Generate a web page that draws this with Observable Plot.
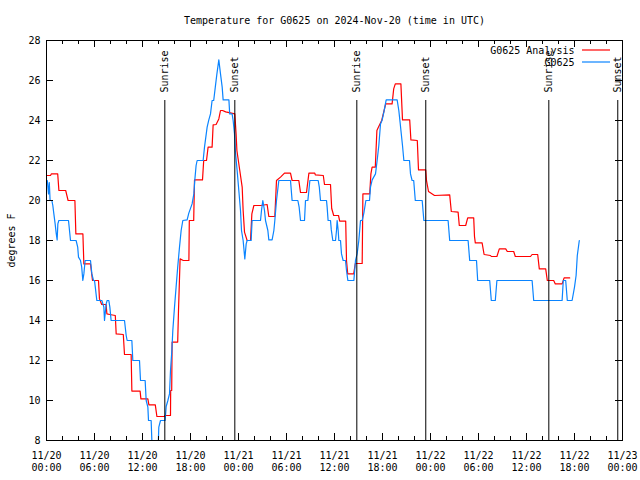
<!DOCTYPE html>
<html>
<head>
<meta charset="utf-8">
<script src="https://cdn.jsdelivr.net/npm/d3@7"></script>
<script src="https://cdn.jsdelivr.net/npm/@observablehq/plot@0.6"></script>
<style>
  html, body { margin: 0; padding: 0; background: white; }
</style>
</head>
<body>
<div id="chart"></div>
<script>
// ---- data (hours since 2024-11-20 00:00 UTC, degrees F) ----
const titleText = "Temperature for G0625 on 2024-Nov-20 (time in UTC)";
const yLabel = "degrees F";
const seriesNames = ["G0625 Analysis", "G0625"];
const seriesColors = ["#ff0000", "#0a84ff"];

const analysis = [
  [0, 21.25], [0.5, 21.25], [0.6, 21.33], [1.4, 21.33], [1.55, 20.5], [2.4, 20.5], [2.5, 20.33],
  [2.7, 20.0], [3.55, 20.0], [3.67, 18.33], [4.55, 18.33], [4.67, 16.83], [5.5, 16.83], [5.75, 16.0],
  [6.5, 16.0], [6.62, 15.08], [6.9, 14.8], [7.45, 14.8], [7.55, 14.33], [7.9, 14.3], [8.6, 14.25],
  [8.71, 13.33], [9.6, 13.3], [9.75, 12.3], [10.58, 12.3], [10.67, 10.47], [11.7, 10.47], [11.8, 10.08],
  [12.67, 10.08], [12.8, 9.78], [13.6, 9.78], [13.8, 9.2], [14.75, 9.2], [14.8, 9.25], [15.5, 9.25],
  [15.52, 10.5], [15.65, 10.5], [15.7, 12.92], [16.4, 12.92], [16.5, 14.5], [16.7, 17.08], [17.1, 17.0],
  [17.8, 17.0], [17.85, 19.0], [18.4, 19.0], [18.5, 21.03], [19.5, 21.03], [19.65, 22.0], [20.0, 22.0],
  [20.2, 22.67], [20.7, 22.67], [20.83, 23.78], [21.2, 23.8], [21.54, 24.08], [21.75, 24.5], [22.0, 24.5],
  [22.4, 24.43], [23.54, 24.33], [23.7, 23.33], [23.8, 22.5], [24.16, 21.5], [24.46, 20.67], [24.58, 19.5],
  [24.75, 18.42], [25.08, 18.0], [25.5, 18.0], [25.67, 19.33], [25.92, 19.75], [26.75, 19.75], [27.58, 19.8],
  [27.79, 19.2], [28.54, 19.2], [28.75, 21.0], [29.25, 21.17], [29.75, 21.37], [30.5, 21.37], [30.7, 21.0],
  [31.54, 21.0], [31.75, 20.4], [32.5, 20.4], [32.8, 21.37], [33.54, 21.37], [33.6, 21.28], [34.6, 21.25],
  [34.75, 20.8], [35.5, 20.8], [35.65, 19.6], [35.9, 19.25], [36.5, 19.25], [36.65, 18.97], [37.4, 18.97],
  [37.5, 17.0], [37.65, 16.33], [38.4, 16.33], [38.6, 16.85], [39.46, 16.85], [39.55, 20.33], [40.4, 20.33],
  [40.55, 21.33], [40.7, 21.67], [41.1, 21.67], [41.3, 23.5], [41.5, 23.67], [41.9, 24.0], [42.4, 24.83],
  [43.2, 24.83], [43.4, 25.58], [43.6, 25.83], [44.3, 25.83], [44.5, 24.03], [45.4, 24.03], [45.55, 23.03],
  [46.35, 23.0], [46.5, 21.53], [47.4, 21.53], [47.5, 21.0], [47.75, 20.45], [48.5, 20.25], [50.4, 20.28],
  [50.6, 19.45], [51.45, 19.42], [51.6, 18.75], [52.4, 18.75], [52.65, 19.13], [53.4, 19.13], [53.5, 18.2],
  [53.6, 17.88], [54.45, 17.88], [54.7, 17.3], [55.5, 17.25], [55.6, 17.2], [56.3, 17.2], [56.6, 17.58],
  [57.4, 17.58], [57.6, 17.45], [58.4, 17.45], [58.6, 17.2], [60.5, 17.2], [60.7, 17.3], [61.4, 17.3],
  [61.6, 16.58], [62.4, 16.58], [62.6, 16.0], [63.4, 16.0], [63.6, 15.83], [64.45, 15.83], [64.7, 16.13],
  [65.4, 16.13]
];

const observed = [
  [0.1, 21.0], [0.25, 20.33], [0.35, 20.9], [0.45, 20.0], [0.67, 20.0], [0.79, 19.75], [0.92, 19.33],
  [1.08, 18.83], [1.21, 18.37], [1.33, 18.03], [1.42, 18.83], [1.54, 19.0], [2.75, 19.0], [3.0, 18.0],
  [3.7, 18.0], [3.9, 17.67], [4.0, 17.17], [4.25, 17.0], [4.4, 16.67], [4.54, 16.0], [4.67, 16.33],
  [4.83, 17.0], [5.5, 17.0], [5.67, 16.33], [5.875, 16.0], [6.0, 16.0], [6.1, 15.67], [6.29, 15.0],
  [6.92, 15.0], [7.17, 14.67], [7.25, 14.0], [7.46, 14.83], [7.58, 15.0], [7.79, 15.0], [7.92, 14.67],
  [8.08, 14.0], [9.75, 14.0], [9.96, 13.25], [10.08, 13.0], [10.67, 13.0], [10.79, 12.0], [11.625, 12.0],
  [11.75, 11.0], [12.33, 11.0], [12.46, 10.0], [12.67, 9.67], [12.75, 9.0], [13.08, 9.0], [13.17, 8.0],
  [13.3, 7.0], [13.9, 7.0], [14.04, 8.67], [14.25, 9.0], [14.83, 9.0], [14.96, 9.7], [15.17, 10.0],
  [15.375, 10.33], [15.5, 11.5], [15.67, 12.5], [15.79, 13.5], [16.0, 14.67], [16.2, 15.67], [16.4, 16.67],
  [16.625, 17.67], [16.83, 18.5], [17.04, 19.0], [17.58, 19.03], [17.79, 19.37], [18.2, 19.83],
  [18.42, 20.33], [18.54, 21.03], [18.7, 21.75], [18.83, 22.0], [19.58, 22.0], [19.75, 22.67],
  [20.08, 23.67], [20.29, 24.03], [20.5, 24.33], [20.7, 25.0], [20.9, 25.0], [21.1, 25.67], [21.3, 26.33],
  [21.54, 27.03], [21.75, 26.33], [21.96, 25.67], [22.08, 25.03], [22.8, 25.03], [22.9, 24.33],
  [23.2, 24.33], [23.33, 24.0], [23.5, 23.33], [23.6, 22.5], [23.83, 21.5], [24.04, 20.5], [24.25, 19.5],
  [24.375, 18.5], [24.58, 18.0], [24.79, 17.08], [24.96, 17.83], [25.08, 18.0], [25.58, 18.0], [25.7, 19.0],
  [26.75, 19.0], [26.875, 19.5], [27.04, 20.0], [27.25, 19.5], [27.375, 19.0], [27.67, 18.5], [27.79, 18.03],
  [28.2, 18.03], [28.42, 18.5], [28.54, 19.0], [28.75, 20.0], [29.04, 21.0], [30.5, 21.0], [30.7, 20.0],
  [31.42, 20.0], [31.58, 19.67], [31.75, 19.0], [32.25, 19.0], [32.375, 20.0], [32.67, 20.0], [32.8, 20.5],
  [32.92, 21.0], [33.96, 21.0], [34.1, 20.67], [34.25, 20.0], [35.0, 20.0], [35.08, 19.67], [35.2, 19.0],
  [35.5, 19.0], [35.6, 18.53], [35.79, 18.0], [36.125, 18.0], [36.25, 18.5], [36.33, 19.0], [36.46, 18.5],
  [36.54, 18.0], [36.75, 18.0], [36.875, 17.33], [37.08, 17.0], [37.375, 17.0], [37.5, 16.5], [37.67, 16.0],
  [38.42, 16.0], [38.625, 17.0], [38.83, 17.33], [39.04, 18.0], [39.25, 19.0], [39.46, 19.0], [39.67, 19.37],
  [39.92, 20.0], [40.375, 20.0], [40.5, 20.67], [40.71, 21.03], [41.125, 21.33], [41.33, 22.0],
  [41.54, 22.75], [41.75, 23.83], [41.96, 24.03], [42.17, 24.42], [42.46, 25.03], [43.83, 25.03],
  [44.04, 24.5], [44.2, 23.9], [44.5, 22.75], [44.67, 22.0], [45.375, 22.0], [45.5, 21.33], [45.7, 21.0],
  [45.9, 21.0], [46.1, 20.0], [46.96, 20.0], [47.17, 19.0], [50.2, 19.0], [50.4, 18.0], [52.7, 18.0],
  [52.9, 17.0], [53.75, 17.0], [53.9, 16.0], [55.4, 16.0], [55.6, 15.0], [56.1, 15.0], [56.3, 16.0],
  [60.7, 16.0], [60.9, 15.0], [64.45, 15.0], [64.6, 16.0], [64.9, 16.0], [65.1, 15.0], [65.7, 15.0],
  [66.0, 15.67], [66.2, 16.25], [66.35, 17.25], [66.6, 18.0]
];

const sunHours = [14.79, 23.54, 38.79, 47.41, 62.79, 71.41];
const sunLabels = ["Sunrise", "Sunset", "Sunrise", "Sunset", "Sunrise", "Sunset"];

const tickHours = [0, 6, 12, 18, 24, 30, 36, 42, 48, 54, 60, 66, 72];
const tickLabels = [
  "11/20\n00:00", "11/20\n06:00", "11/20\n12:00", "11/20\n18:00",
  "11/21\n00:00", "11/21\n06:00", "11/21\n12:00", "11/21\n18:00",
  "11/22\n00:00", "11/22\n06:00", "11/22\n12:00", "11/22\n18:00",
  "11/23\n00:00"
];
const minorHours = d3.range(0, 73, 2).filter(h => h % 6 !== 0);
const yTicks = [8, 10, 12, 14, 16, 18, 20, 22, 24, 26, 28];

// ---- layout ----
const W = 640, H = 480;
const mT = 40, mR = 18, mB = 40, mL = 46;
const fw = W - mL - mR, fh = H - mT - mB;
const font = "DejaVu Sans Mono";

const legendMarks = seriesNames.map((name, i) =>
  Plot.text([name], {frameAnchor: "top-right", dx: -48, dy: 10 + 12 * i,
    textAnchor: "end", lineAnchor: "middle", fontSize: 10, fill: "black"}));

const plot = Plot.plot({
  width: W, height: H,
  marginTop: mT, marginRight: mR, marginBottom: mB, marginLeft: mL,
  style: {fontFamily: font, fontSize: "10px", background: "white", color: "black"},
  x: {type: "linear", domain: [0, 72]},
  y: {domain: [8, 28]},
  marks: [
    Plot.line(analysis, {x: d => d[0], y: d => d[1], stroke: seriesColors[0], strokeWidth: 1.2, clip: true}),
    Plot.line(observed, {x: d => d[0], y: d => d[1], stroke: seriesColors[1], strokeWidth: 1.2, clip: true}),
    Plot.ruleX(sunHours, {x: d => d, insetTop: 60, stroke: "black", strokeWidth: 1}),
    Plot.text(sunHours, {x: d => d, text: (d, i) => sunLabels[i], frameAnchor: "top", dy: 52,
      rotate: -90, textAnchor: "start", lineAnchor: "middle", fontSize: 10, fill: "black"}),
    // ticks (inward, mirrored)
    Plot.ruleX(tickHours, {x: d => d, insetTop: fh - 7, stroke: "black"}),
    Plot.ruleX(tickHours, {x: d => d, insetBottom: fh - 7, stroke: "black"}),
    Plot.ruleX(minorHours, {x: d => d, insetTop: fh - 4, stroke: "black"}),
    Plot.ruleX(minorHours, {x: d => d, insetBottom: fh - 4, stroke: "black"}),
    Plot.ruleY(yTicks, {y: d => d, insetRight: fw - 7, stroke: "black"}),
    Plot.ruleY(yTicks, {y: d => d, insetLeft: fw - 7, stroke: "black"}),
    Plot.frame({stroke: "black", strokeWidth: 1}),
    Plot.axisX({ticks: tickHours, tickFormat: d => tickLabels[tickHours.indexOf(d)],
      tickSize: 0, tickPadding: 10, label: null, lineHeight: 1.2, fontSize: 10}),
    Plot.axisY({ticks: yTicks, tickFormat: d => String(d), tickSize: 0, tickPadding: 6, label: null, fontSize: 10}),
    Plot.text([yLabel], {frameAnchor: "left", dx: -35, rotate: -90, textAnchor: "middle", lineAnchor: "middle", fontSize: 10}),
    Plot.text([titleText], {frameAnchor: "top", dy: -20, textAnchor: "middle", lineAnchor: "middle", fontSize: 10}),
    ...legendMarks
  ]
});

// legend line samples
const svg = d3.select(plot);
seriesNames.forEach((name, i) => {
  svg.append("line")
    .attr("x1", W - mR - 40).attr("x2", W - mR - 12)
    .attr("y1", mT + 10 + 12 * i).attr("y2", mT + 10 + 12 * i)
    .attr("stroke", seriesColors[i]).attr("stroke-width", 1.2);
});

document.getElementById("chart").appendChild(plot);
</script>
</body>
</html>
